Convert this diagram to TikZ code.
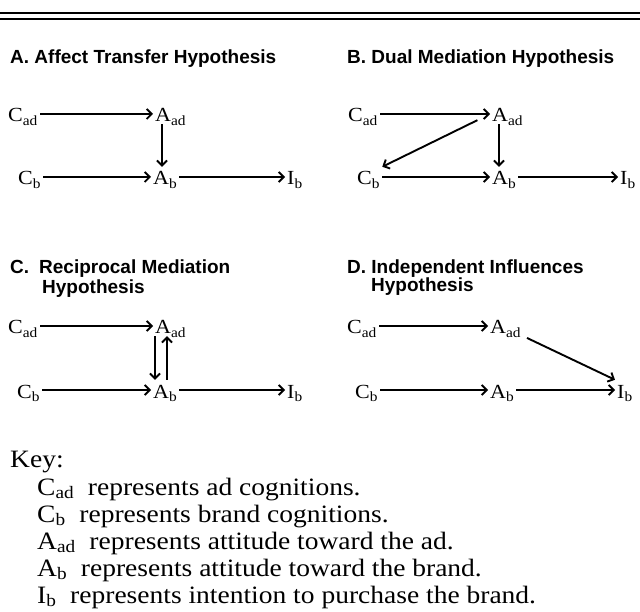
\documentclass[tikz,border=0pt]{standalone}
\usepackage{fontspec}
\setmainfont{Liberation Serif}[FakeStretch=1.1]
\setsansfont{Liberation Sans}
\usepackage{tikz}
\usetikzlibrary{arrows.meta}
\newcommand{\Cad}{C\textsubscript{ad}}
\newcommand{\Cb}{C\textsubscript{b}}
\newcommand{\Aad}{A\textsubscript{ad}}
\newcommand{\Ab}{A\textsubscript{b}}
\newcommand{\Ib}{I\textsubscript{b}}

\begin{document}
\begin{tikzpicture}[x=1pt,y=-1pt,
    var/.style={anchor=base west,inner sep=2pt,text height=16pt,text depth=0pt,
                font=\fontsize{20}{22}\selectfont},
    arr/.style={line width=1.9pt,-{Straight Barb[length=5pt,width=10pt]}},
    head/.style={anchor=base west,inner sep=0pt,
                 font=\sffamily\bfseries\fontsize{19}{22}\selectfont},
    keyline/.style={anchor=base west,inner sep=0pt,font=\fontsize{25}{28}\selectfont}]
  \useasboundingbox (0,0) rectangle (640,612);

  %% ── rule at the top ──
  \draw[line width=1.5pt] (0,13) -- (640,13);
  \draw[line width=1.5pt] (0,19) -- (640,19);

  %% ── A: affect transfer ──
  \node[head] (headA) at (10,64) {A. Affect Transfer Hypothesis};
  \node[var] (cadA) at (6,122) {\Cad};
  \node[var] (aadA) at (153,122) {\Aad};
  \node[var] (cbA)  at (16,185) {\Cb};
  \node[var] (abA)  at (151,185) {\Ab};
  \node[var] (ibA)  at (285,185) {\Ib};
  \draw[arr] (cadA) -- (aadA);
  \draw[arr] ([xshift=9pt]aadA.south west) -- ([xshift=9pt]aadA.south west |- abA.north);
  \draw[arr] (cbA) -- (abA);
  \draw[arr] (abA) -- (ibA);

  %% ── B: dual mediation ──
  \node[head] (headB) at (347,64) {B. Dual Mediation Hypothesis};
  \node[var] (cadB) at (346,122) {\Cad};
  \node[var] (aadB) at (490,122) {\Aad};
  \node[var] (cbB)  at (355,185) {\Cb};
  \node[var] (abB)  at (490,185) {\Ab};
  \node[var] (ibB)  at (618,185) {\Ib};
  \draw[arr] (cadB) -- (aadB);
  \draw[arr,shorten <=14pt] (aadB.west) -- (cbB.north east);
  \draw[arr] ([xshift=9pt]aadB.south west) -- ([xshift=9pt]aadB.south west |- abB.north);
  \draw[arr] (cbB) -- (abB);
  \draw[arr] (abB) -- (ibB);

  %% ── C: reciprocal mediation ──
  \node[head] (headC)  at (10,274) {C.\hspace{10pt}Reciprocal Mediation};
  \node[head] (headC2) at (42,294) {Hypothesis};
  \node[var] (cadC) at (6,334) {\Cad};
  \node[var] (aadC) at (153,334) {\Aad};
  \node[var] (cbC)  at (15,398) {\Cb};
  \node[var] (abC)  at (151,398) {\Ab};
  \node[var] (ibC)  at (285,398) {\Ib};
  \draw[arr] (cadC) -- (aadC);
  \draw[arr] ([xshift=2pt]aadC.south west) -- ([xshift=2pt]aadC.south west |- abC.north);
  \draw[arr] ([xshift=14pt]aadC.south west |- abC.north) -- ([xshift=14pt]aadC.south west);
  \draw[arr] (cbC) -- (abC);
  \draw[arr] (abC) -- (ibC);

  %% ── D: independent influences ──
  \node[head] (headD)  at (347,274) {D. Independent Influences};
  \node[head] (headD2) at (371,292) {Hypothesis};
  \node[var] (cadD) at (345,334) {\Cad};
  \node[var] (aadD) at (488,334) {\Aad};
  \node[var] (cbD)  at (353,398) {\Cb};
  \node[var] (abD)  at (488,398) {\Ab};
  \node[var] (ibD)  at (615,398) {\Ib};
  \draw[arr] (cadD) -- (aadD);
  \draw[arr,shorten <=4pt] (aadD.south east) -- (ibD.north west);
  \draw[arr] (cbD) -- (abD);
  \draw[arr] (abD) -- (ibD);

  %% ── key ──
  \node[keyline] (key)  at (10,467)  {Key:};
  \node[keyline] (key1) at (37,495)  {\Cad\ \ represents ad cognitions.};
  \node[keyline] (key2) at (37,522)  {\Cb\ \ represents brand cognitions.};
  \node[keyline] (key3) at (37,549)  {\Aad\ \ represents attitude toward the ad.};
  \node[keyline] (key4) at (37,576)  {\Ab\ \ represents attitude toward the brand.};
  \node[keyline] (key5) at (37,603)  {\Ib\ \ represents intention to purchase the brand.};
\end{tikzpicture}
\end{document}
